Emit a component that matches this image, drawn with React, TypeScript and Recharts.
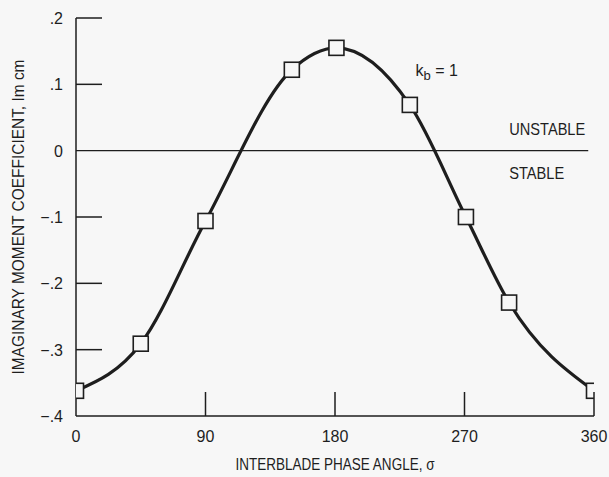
import React from 'react';
import { LineChart, Line, XAxis, YAxis, ReferenceLine, ReferenceDot, Label } from 'recharts';

const phaseAngles = [0, 45, 90, 150, 181, 232, 271, 301, 360];
const momentValues = [-0.362, -0.291, -0.106, 0.122, 0.155, 0.069, -0.1, -0.229, -0.362];
const xTicks = [0, 90, 180, 270, 360];
const yTicks = [-0.4, -0.3, -0.2, -0.1, 0, 0.1, 0.2];
const yTickLabels = ['\u2212.4', '\u2212.3', '\u2212.2', '\u2212.1', '0', '.1', '.2'];
const xTitle = 'INTERBLADE PHASE ANGLE, \u03c3';
const yTitle = 'IMAGINARY MOMENT COEFFICIENT, Im cm';

const data = phaseAngles.map((a, i) => ({ sigma: a, im: momentValues[i] }));

const FONT = "'Liberation Sans Narrow', 'Arial Narrow', 'Liberation Sans', Arial, sans-serif";
const INK = '#1e1e1e';
const BG = '#f7f7f7';

const XTick = (props: any) => {
  const { x, y, payload } = props;
  return (
    <g>
      {payload.value !== 0 && (
        <line x1={x} y1={y} x2={x} y2={y - 24} stroke={INK} strokeWidth={1.5} />
      )}
      <text x={x} y={y + 26} textAnchor="middle" fontFamily={FONT} fontSize={16} fill={INK}>
        {String(payload.value)}
      </text>
    </g>
  );
};

const YTick = (props: any) => {
  const { x, y, payload } = props;
  const idx = yTicks.findIndex((t) => Math.abs(t - payload.value) < 1e-9);
  const label = idx >= 0 ? yTickLabels[idx] : String(payload.value);
  return (
    <g>
      {payload.value !== 0 && payload.value !== -0.4 && (
        <line x1={x} y1={y} x2={x + 26} y2={y} stroke={INK} strokeWidth={1.5} />
      )}
      <text x={x - 13} y={y + 6} textAnchor="end" fontFamily={FONT} fontSize={16} fill={INK}>
        {label}
      </text>
    </g>
  );
};

const SquareDot = (props: any) => {
  const { cx, cy } = props;
  if (cx == null || cy == null) return null;
  return <rect x={cx - 7.5} y={cy - 7.5} width={15} height={15} fill={BG} stroke={INK} strokeWidth={1.6} />;
};

const StabilityLabels = (props: any) => {
  const vb = props.viewBox || {};
  const right = (vb.x || 0) + (vb.width || 0);
  const y = vb.y || 0;
  return (
    <g fontFamily={FONT} fontSize={17} fill={INK}>
      <text x={right - 3} y={y - 16} textAnchor="end" textLength={76} lengthAdjust="spacingAndGlyphs">UNSTABLE</text>
      <text x={right - 24} y={y + 28} textAnchor="end" textLength={55} lengthAdjust="spacingAndGlyphs">STABLE</text>
    </g>
  );
};

const KbLabel = (props: any) => {
  const { cx, cy } = props;
  return (
    <text x={cx} y={cy} fontFamily={FONT} fontSize={16} fill={INK}>
      <tspan>k</tspan>
      <tspan dy={4} fontSize={13}>b</tspan>
      <tspan dy={-4}> = 1</tspan>
    </text>
  );
};

const YLabel = (props: any) => {
  const vb = props.viewBox || {};
  const cx = 20;
  const cy = (vb.y || 0) + (vb.height || 0) / 2;
  return (
    <text
      x={cx}
      y={cy}
      transform={`rotate(-90, ${cx}, ${cy})`}
      textAnchor="middle"
      dominantBaseline="middle"
      fontFamily={FONT}
      fontSize={16}
      fill={INK}
      textLength={315}
      lengthAdjust="spacingAndGlyphs"
    >
      {yTitle}
    </text>
  );
};

const XLabel = (props: any) => {
  const vb = props.viewBox || {};
  const cx = (vb.x || 0) + (vb.width || 0) / 2;
  return (
    <text x={cx} y={470} textAnchor="middle" fontFamily={FONT} fontSize={16} fill={INK} textLength={199} lengthAdjust="spacingAndGlyphs">
      {xTitle}
    </text>
  );
};

export default function App() {
  return (
    <div style={{ position: 'absolute', left: 0, top: 0, width: 609, height: 477, background: BG }}>
      <LineChart width={609} height={477} data={data} margin={{ top: 18, right: 15, bottom: 11, left: 16 }}>
        <XAxis
          dataKey="sigma"
          type="number"
          domain={[0, 360]}
          ticks={xTicks}
          interval={0}
          tick={<XTick />}
          tickLine={false}
          tickSize={0}
          tickMargin={0}
          height={50}
          axisLine={{ stroke: INK, strokeWidth: 1.5 }}
          allowDataOverflow
        >
          <Label content={<XLabel />} />
        </XAxis>
        <YAxis
          type="number"
          domain={[-0.4, 0.2]}
          ticks={yTicks}
          interval={0}
          tick={<YTick />}
          tickLine={false}
          tickSize={0}
          tickMargin={0}
          width={60}
          axisLine={{ stroke: INK, strokeWidth: 1.5 }}
          allowDataOverflow
        >
          <Label content={<YLabel />} />
        </YAxis>
        <ReferenceLine
          segment={[{ x: 0, y: 0 }, { x: 356, y: 0 }]}
          stroke={INK}
          strokeWidth={1.3}
          label={<StabilityLabels />}
        />
        <ReferenceDot x={236} y={0.112} r={0} shape={<KbLabel />} />
        <Line
          type="monotone"
          dataKey="im"
          stroke={INK}
          strokeWidth={3.2}
          dot={<SquareDot />}
          activeDot={false}
          isAnimationActive={false}
        />
      </LineChart>
    </div>
  );
}
